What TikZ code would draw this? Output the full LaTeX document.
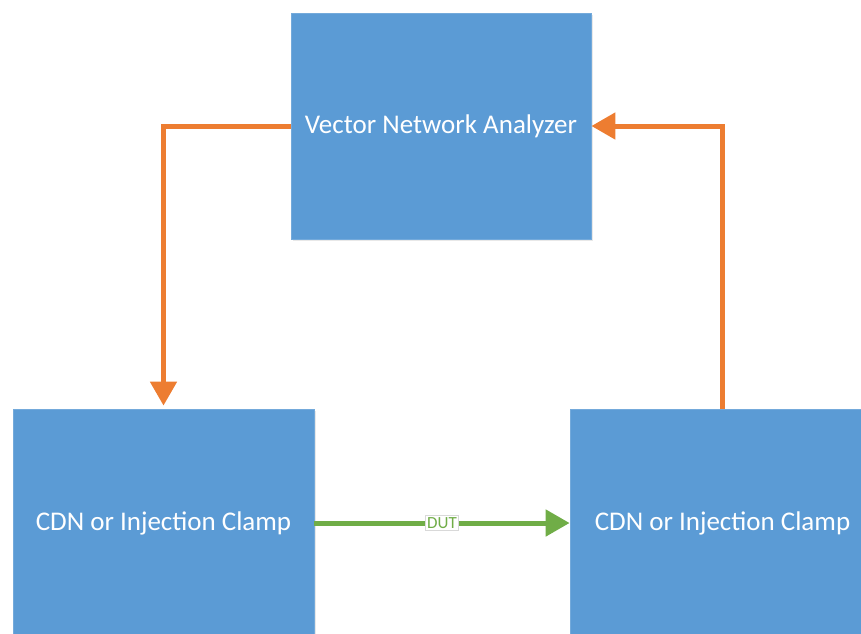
\documentclass[tikz,border=0pt]{standalone}
\usepackage{fontspec}
\setmainfont{Carlito}
\usetikzlibrary{arrows.meta,shadows}

\definecolor{boxblue}{HTML}{5B9BD5}
\definecolor{linkorange}{HTML}{ED7D31}
\definecolor{linkgreen}{HTML}{70AD47}

\tikzset{
  unit/.style={rectangle,fill=boxblue,draw=boxblue!85!white,line width=0.8pt,
    text=white,font=\fontsize{27}{30}\selectfont,
    drop shadow={shadow xshift=1.5pt,shadow yshift=-1.5pt,opacity=0.18}},
  cable/.style={line width=5pt,-{Triangle[length=24pt,width=26pt]}},
  dutlabel/.style={fill=white,draw=black!15,line width=0.8pt,text=linkgreen,
    font=\fontsize{17}{18}\selectfont,inner sep=2pt}
}

\begin{document}
\begin{tikzpicture}[x=1pt,y=-1pt]
  \useasboundingbox (0,0) rectangle (861,633);
  \clip (0,0) rectangle (861,633);
  \node[unit,minimum width=300pt,minimum height=226pt] (vna) at (441,126) {Vector Network Analyzer};
  \node[unit,minimum width=301pt,minimum height=228pt] (cdnL) at (163.5,523) {CDN or Injection Clamp};
  \node[unit,minimum width=305pt,minimum height=228pt] (cdnR) at (722.5,523) {CDN or Injection Clamp};
  \draw[cable,linkorange,shorten >=3pt] (vna.west) -| (cdnL.north);
  \draw[cable,linkorange] (cdnR.north) |- (vna.east);
  \draw[cable,linkgreen] (cdnL.east) -- node[dutlabel] {DUT} (cdnR.west);
\end{tikzpicture}
\end{document}
